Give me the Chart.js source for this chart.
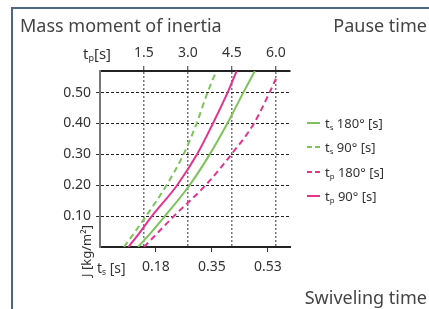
<!DOCTYPE html>
<html>
<head>
<meta charset="utf-8">
<script src="https://cdn.jsdelivr.net/npm/chart.js@4.4.1/dist/chart.umd.min.js"></script>
<style>
  html,body{margin:0;padding:0;background:#fff;}
  #wrap{position:relative;width:429px;height:309px;overflow:hidden;font-family:"Noto Sans",sans-serif;color:#444;}
  #frame{position:absolute;left:11px;top:7px;width:500px;height:400px;border-top:2px solid #4d6682;border-left:2px solid #4d6682;}
  canvas{position:absolute;left:0;top:0;}
  .lbl{position:absolute;white-space:nowrap;}
  .big{font-size:18px;line-height:18px;}
  .ax{font-size:14px;line-height:14px;color:#333;}
  sub{font-size:0.6em;vertical-align:-0.2em;line-height:0;}
  #legend{position:absolute;left:307px;top:0;}
  .item{position:absolute;left:0;height:14px;font-size:13px;line-height:14px;color:#333;white-space:nowrap;}
  .item .sw{position:absolute;left:0;top:6px;width:13px;height:2px;}
  .item .tx{position:absolute;left:18px;top:0;}
</style>
</head>
<body>
<div id="wrap">
  <div id="frame"></div>
  <canvas id="chart" width="429" height="309"></canvas>
  <div class="lbl big" style="left:20px;top:16px;">Mass moment of inertia</div>
  <div class="lbl big" style="right:2px;top:16px;">Pause time</div>
  <div class="lbl big" style="right:2px;top:288px;">Swiveling time</div>
  <div class="lbl ax" style="left:83px;top:46px;font-size:15px;">t<sub>p</sub>[s]</div>
  <div class="lbl ax" style="left:97px;top:261px;">t<sub>s</sub> [s]</div>
  <div class="lbl ax" style="left:61px;top:245px;width:50px;font-size:13px;text-align:center;transform:rotate(-90deg);">J [kg/m²]</div>
  <div id="legend"></div>
</div>
<script>
// mass moment of inertia J [kg/m2] for each reading
const jValues = [0, 0.05, 0.1, 0.2, 0.3, 0.4, 0.5, 0.57];
const jValuesTs90 = [0, 0.05, 0.1, 0.2, 0.3, 0.4, 0.5, 0.566];
const jValuesTp180 = [0, 0.05, 0.1, 0.2, 0.3, 0.4, 0.5, 0.545];

// swiveling time ts [s] (bottom axis)
const ts180 = [0.119, 0.162, 0.203, 0.280, 0.343, 0.398, 0.448, 0.484];
const ts90 = [0.075, 0.110, 0.144, 0.208, 0.261, 0.302, 0.336, 0.362];
// pause time tp [s] (top axis)
const tp180 = [1.50, 2.01, 2.52, 3.60, 4.48, 5.25, 5.78, 6.0];
const tp90 = [0.97, 1.38, 1.77, 2.63, 3.31, 3.85, 4.35, 4.66];

const yTicks = [0.1, 0.2, 0.3, 0.4, 0.5];
const topTicks = [1.5, 3.0, 4.5, 6.0];
const bottomTicks = [0.175, 0.35, 0.525];
const bottomTickLabels = ['0.18', '0.35', '0.53'];

const GREEN = '#7cc35a', PINK = '#e4338d';

function pts(xs, ys){ return xs.map((x,i)=>({x:x, y:ys[i]})) }

const datasets = [
  {label:['t','s',' 180° [s]'], data:pts(ts180, jValues), xAxisID:'x', borderColor:GREEN, dash:[]},
  {label:['t','s',' 90° [s]'], data:pts(ts90, jValuesTs90), xAxisID:'x', borderColor:GREEN, dash:[6,4]},
  {label:['t','p',' 180° [s]'], data:pts(tp180, jValuesTp180), xAxisID:'x2', borderColor:PINK, dash:[6,4]},
  {label:['t','p',' 90° [s]'], data:pts(tp90, jValues), xAxisID:'x2', borderColor:PINK, dash:[]}
].map(d=>({label:d.label.join(''), parts:d.label, data:d.data, xAxisID:d.xAxisID, yAxisID:'y',
  borderColor:d.borderColor, borderDash:d.dash, borderWidth:2, pointRadius:0,
  cubicInterpolationMode:'monotone', fill:false}));

const tickFont = {family:'"Noto Sans", sans-serif', size:14};

const chart = new Chart(document.getElementById('chart'), {
  type:'line',
  data:{datasets:datasets},
  options:{
    responsive:false, animation:false, devicePixelRatio:1,
    layout:{padding:{left:0, right:139, top:0, bottom:0}},
    plugins:{legend:{display:false}, tooltip:{enabled:false}},
    scales:{
      x:{type:'linear', position:'bottom', min:0, max:0.594,
        afterBuildTicks:s=>{ s.ticks = bottomTicks.map(v=>({value:v})) },
        afterFit:s=>{ s.height = 62 },
        ticks:{font:tickFont, color:'#333', padding:7, maxRotation:0,
          callback:(v,i)=>bottomTickLabels[i]},
        grid:{drawOnChartArea:false, drawTicks:true, tickLength:5, tickColor:'#333', tickWidth:1},
        border:{display:true, color:'#222', width:2}
      },
      x2:{type:'linear', position:'top', min:0, max:6.48,
        afterBuildTicks:s=>{ s.ticks = topTicks.map(v=>({value:v})) },
        afterFit:s=>{ s.height = 71 },
        ticks:{font:tickFont, color:'#333', padding:5, maxRotation:0,
          callback:v=>v.toFixed(1)},
        grid:{drawOnChartArea:true, color:'#777', lineWidth:1.5, tickLength:5, tickColor:'#333', tickWidth:1, tickBorderDash:[]},
        border:{display:true, color:'#222', width:2, dash:[2,2]}
      },
      y:{type:'linear', position:'left', min:0, max:0.57,
        afterBuildTicks:s=>{ s.ticks = yTicks.map(v=>({value:v})) },
        afterFit:s=>{ s.width = 100 },
        ticks:{font:tickFont, color:'#333', padding:5, callback:v=>v.toFixed(2)},
        grid:{color:'#222', lineWidth:1, tickLength:4, tickColor:'#333', tickWidth:1, tickBorderDash:[]},
        border:{display:true, color:'#777', width:2, dash:[3,2]}
      }
    }
  }
});

// legend built from the datasets
const legendTops = [116, 140, 165, 189];
const legend = document.getElementById('legend');
[0,1,2,3].forEach((k,row)=>{
  const ds = datasets[k];
  const item = document.createElement('div');
  item.className = 'item';
  item.style.top = legendTops[row] + 'px';
  const sw = document.createElement('div');
  sw.className = 'sw';
  sw.style.background = ds.borderDash.length
    ? 'repeating-linear-gradient(90deg,' + ds.borderColor + ' 0 5px, transparent 5px 8px)'
    : ds.borderColor;
  const tx = document.createElement('div');
  tx.className = 'tx';
  tx.innerHTML = ds.parts[0] + '<sub>' + ds.parts[1] + '</sub>' + ds.parts[2];
  item.appendChild(sw); item.appendChild(tx);
  legend.appendChild(item);
});
</script>
</body>
</html>
